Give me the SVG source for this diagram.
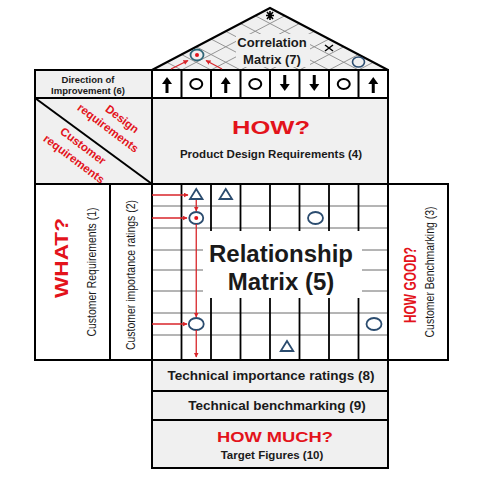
<svg xmlns="http://www.w3.org/2000/svg" width="500" height="500" viewBox="0 0 500 500">
<style>
.box{stroke:#000;stroke-width:2}
.gray{fill:#f0f0f0}
.white{fill:#fff}
.lat{stroke:#8a8a8a;stroke-width:0.9;fill:none}
.hl{stroke:#6a6a6a;stroke-width:1;fill:none}
.vl{stroke:#000;stroke-width:1.8;fill:none}
.t{font-family:"Liberation Sans",Arial,sans-serif;fill:#1a1a1a}
.b{font-weight:bold}
.red{fill:#e3131b;font-weight:bold}
.sym{fill:none;stroke:#2b4c6f;stroke-width:1.8}
.blk{fill:none;stroke:#000;stroke-width:2}
.ra{stroke:#d9252a;stroke-width:1.3;fill:none;marker-end:url(#ah)}
</style>
<defs>
<marker id="ah" viewBox="0 0 10 10" refX="9" refY="5" markerWidth="5" markerHeight="5" orient="auto" markerUnits="userSpaceOnUse">
<path d="M0,0 L10,5 L0,10 z" fill="#d9252a"/>
</marker>
<g id="up"><rect x="-1.5" y="-2" width="3" height="10" fill="#000"/><path d="M-5,-1 L5,-1 L0,-8 z" fill="#000"/></g>
<g id="dn"><rect x="-1.5" y="-8" width="3" height="10" fill="#000"/><path d="M-5,1 L5,1 L0,8 z" fill="#000"/></g>
</defs>
<rect width="500" height="500" fill="#fff"/>

<g id="roof">
<polygon points="152,70 270,8 388,70" class="gray"/>
<g class="lat">
<line x1="181.5" y1="70" x2="284.75" y2="15.75"/><line x1="181.5" y1="70" x2="166.75" y2="62.25"/>
<line x1="211" y1="70" x2="299.5" y2="23.5"/><line x1="211" y1="70" x2="181.5" y2="54.5"/>
<line x1="240.5" y1="70" x2="314.25" y2="31.25"/><line x1="240.5" y1="70" x2="196.25" y2="46.75"/>
<line x1="270" y1="70" x2="329" y2="39"/><line x1="270" y1="70" x2="211" y2="39"/>
<line x1="299.5" y1="70" x2="343.75" y2="46.75"/><line x1="299.5" y1="70" x2="225.75" y2="31.25"/>
<line x1="329" y1="70" x2="358.5" y2="54.5"/><line x1="329" y1="70" x2="240.5" y2="23.5"/>
<line x1="358.5" y1="70" x2="373.25" y2="62.25"/><line x1="358.5" y1="70" x2="255.25" y2="15.75"/>
</g>
<rect x="236" y="34" width="74" height="33" class="gray"/>
<polygon points="152,70 270,8 388,70" fill="none" class="box"/>
<text class="t b" x="272" y="47" font-size="13" text-anchor="middle">Correlation</text>
<text class="t b" x="272" y="64" font-size="13" text-anchor="middle">Matrix  (7)</text>
<ellipse cx="197" cy="55" rx="6.5" ry="5.5" fill="none" stroke="#2f6576" stroke-width="1.8"/>
<circle cx="197" cy="55" r="2" fill="#e3131b"/>
<path d="M267,12 L273,19 M273,12 L267,19 M266,15.5 L274,15.5 M270,11 L270,20" stroke="#000" stroke-width="1.6"/>
<path d="M325,45 L333,51 M333,45 L325,51" stroke="#000" stroke-width="1.5"/>
<ellipse cx="358.5" cy="62" rx="6" ry="5" fill="none" stroke="#2b4c6f" stroke-width="1.6"/>
</g>

<g id="directions">
<rect x="152" y="70" width="236" height="28" class="box white"/>
<g class="vl" style="stroke-width:2">
<line x1="181.5" y1="70" x2="181.5" y2="98"/><line x1="211" y1="70" x2="211" y2="98"/>
<line x1="240.5" y1="70" x2="240.5" y2="98"/><line x1="270" y1="70" x2="270" y2="98"/>
<line x1="299.5" y1="70" x2="299.5" y2="98"/><line x1="329" y1="70" x2="329" y2="98"/>
<line x1="358.5" y1="70" x2="358.5" y2="98"/>
</g>
<use href="#up" x="167" y="85"/>
<ellipse cx="196.25" cy="84" rx="6" ry="5" class="blk"/>
<use href="#up" x="225.75" y="85"/>
<ellipse cx="255.25" cy="84" rx="6" ry="5" class="blk"/>
<use href="#dn" x="284.75" y="83"/>
<use href="#dn" x="314.25" y="83"/>
<ellipse cx="343.75" cy="84" rx="6" ry="5" class="blk"/>
<use href="#up" x="373.25" y="85"/>
</g>

<g id="direction-label">
<rect x="35" y="70" width="117" height="28" class="box gray"/>
<text class="t b" x="88" y="83" font-size="9.5" text-anchor="middle">Direction of</text>
<text class="t b" x="88" y="94" font-size="9.5" text-anchor="middle">Improvement (6)</text>
</g>

<g id="corner">
<rect x="35" y="98" width="117" height="86" class="box gray"/>
<line x1="35" y1="98" x2="152" y2="184" stroke="#000" stroke-width="2"/>
<g class="t red" font-size="11.5" text-anchor="middle">
<text transform="translate(119.7,122.1) rotate(37)">Design</text>
<text transform="translate(105.7,131.1) rotate(37)">requirements</text>
<text transform="translate(80.7,149.1) rotate(37)">Customer</text>
<text transform="translate(71.7,162.1) rotate(37)">requirements</text>
</g>
</g>

<g id="how">
<rect x="152" y="98" width="236" height="86" class="box gray"/>
<text class="t red" x="271" y="134" font-size="19" text-anchor="middle" textLength="78" lengthAdjust="spacingAndGlyphs">HOW?</text>
<text class="t b" x="271" y="158" font-size="11.5" text-anchor="middle">Product Design Requirements  (4)</text>
</g>

<g id="what">
<rect x="35" y="184" width="75" height="176" class="box white"/>
<text class="t red" transform="translate(68,258) rotate(-90)" font-size="18" text-anchor="middle" textLength="80" lengthAdjust="spacingAndGlyphs">WHAT?</text>
<text class="t" transform="translate(96,272) rotate(-90)" font-size="12" text-anchor="middle" textLength="129" lengthAdjust="spacingAndGlyphs">Customer Requirements (1)</text>
</g>

<g id="importance">
<rect x="110" y="184" width="42" height="176" class="box white"/>
<text class="t" transform="translate(135,275) rotate(-90)" font-size="12" text-anchor="middle" textLength="150" lengthAdjust="spacingAndGlyphs">Customer importance ratings (2)</text>
</g>

<g id="matrix">
<rect x="152" y="184" width="236" height="176" class="white"/>
<g class="hl">
<line x1="152" y1="206" x2="388" y2="206"/><line x1="152" y1="228" x2="388" y2="228"/>
<line x1="152" y1="250" x2="388" y2="250"/><line x1="152" y1="270" x2="388" y2="270"/>
<line x1="152" y1="291" x2="388" y2="291"/><line x1="152" y1="313" x2="388" y2="313"/>
<line x1="152" y1="335" x2="388" y2="335"/>
</g>
<g class="vl">
<line x1="181.5" y1="184" x2="181.5" y2="360"/><line x1="211" y1="184" x2="211" y2="360"/>
<line x1="240.5" y1="184" x2="240.5" y2="360"/><line x1="270" y1="184" x2="270" y2="360"/>
<line x1="299.5" y1="184" x2="299.5" y2="360"/><line x1="329" y1="184" x2="329" y2="360"/>
<line x1="358.5" y1="184" x2="358.5" y2="360"/>
</g>
<rect x="203" y="231" width="159" height="67" fill="#fff"/>
<rect x="152" y="184" width="236" height="176" fill="none" class="box"/>
<text class="t b" x="281" y="262" font-size="24" text-anchor="middle">Relationship</text>
<text class="t b" x="281" y="290" font-size="24" text-anchor="middle">Matrix (5)</text>
<polygon points="196.25,189 202.5,199 190,199" class="sym"/>
<polygon points="225.75,189 232,199 219.5,199" class="sym"/>
<polygon points="287,341 293.25,351 280.75,351" class="sym"/>
<ellipse cx="196.25" cy="218" rx="7" ry="6" class="sym"/>
<circle cx="196.25" cy="218" r="2" fill="#e3131b"/>
<ellipse cx="315.5" cy="218" rx="7.5" ry="6" class="sym"/>
<ellipse cx="196.25" cy="324" rx="7.5" ry="6" class="sym"/>
<ellipse cx="374" cy="324" rx="7.5" ry="6" class="sym"/>
</g>

<g id="how-good">
<rect x="388" y="184" width="60" height="176" class="box white"/>
<text class="t red" transform="translate(416,285) rotate(-90)" font-size="17" text-anchor="middle" textLength="76" lengthAdjust="spacingAndGlyphs">HOW GOOD?</text>
<text class="t" transform="translate(434,272) rotate(-90)" font-size="12" text-anchor="middle" textLength="131" lengthAdjust="spacingAndGlyphs">Customer Benchmarking (3)</text>
</g>

<g id="tech-importance">
<rect x="152" y="360" width="236" height="31" class="box gray"/>
<text class="t b" x="271" y="380" font-size="13.5" text-anchor="middle">Technical importance ratings (8)</text>
</g>
<g id="tech-benchmarking">
<rect x="152" y="391" width="236" height="29" class="box gray"/>
<text class="t b" x="277" y="410" font-size="13.5" text-anchor="middle">Technical benchmarking (9)</text>
</g>
<g id="how-much">
<rect x="152" y="420" width="236" height="48" class="box gray"/>
<text class="t red" x="275" y="442" font-size="15" text-anchor="middle" textLength="116" lengthAdjust="spacingAndGlyphs">HOW MUCH?</text>
<text class="t b" x="272" y="459" font-size="11.5" text-anchor="middle">Target Figures (10)</text>
</g>

<g id="connectors">
<line x1="171" y1="69" x2="188" y2="60.5" class="ra"/>
<line x1="222" y1="69" x2="206" y2="60.5" class="ra"/>
<line x1="152" y1="195" x2="188" y2="195" class="ra"/>
<line x1="152" y1="218" x2="187" y2="218" class="ra"/>
<line x1="152" y1="324" x2="187" y2="324" class="ra"/>
<line x1="196.25" y1="200" x2="196.25" y2="211" class="ra"/>
<line x1="196.25" y1="224" x2="196.25" y2="317" class="ra"/>
<line x1="196.25" y1="330" x2="196.25" y2="357" class="ra"/>
</g>
</svg>
